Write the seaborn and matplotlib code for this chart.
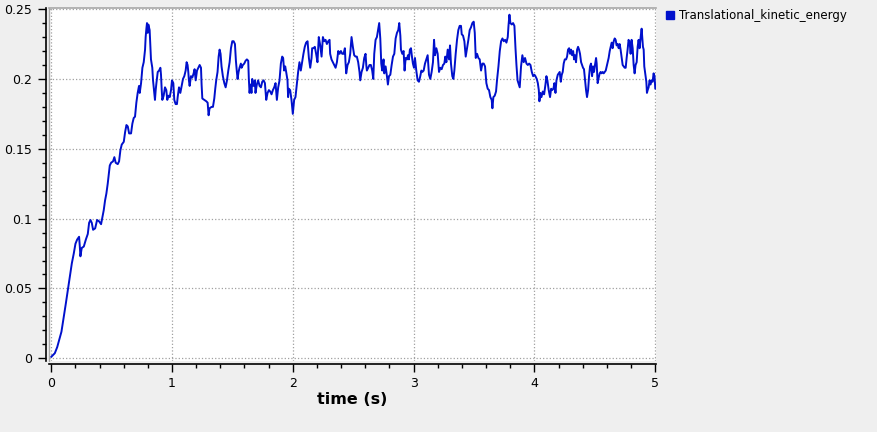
import numpy as np
import pandas as pd
import matplotlib
matplotlib.use("Agg")
import matplotlib.pyplot as plt
import seaborn as sns
from matplotlib.lines import Line2D
from matplotlib.ticker import MultipleLocator

# 데이터
time_s = [
    0.0, 0.03, 0.05, 0.066, 0.085, 0.105, 0.121, 0.138, 0.154, 0.171, 0.187, 0.201, 0.215, 0.231, 0.237, 0.242,
    0.253, 0.27, 0.287, 0.303, 0.314, 0.325, 0.336, 0.347, 0.364, 0.38, 0.397, 0.413, 0.424, 0.435, 0.446, 0.457,
    0.468, 0.477, 0.485, 0.496, 0.512, 0.523, 0.534, 0.551, 0.562, 0.573, 0.584, 0.601, 0.612, 0.623, 0.634, 0.645,
    0.661, 0.672, 0.683, 0.694, 0.705, 0.716, 0.727, 0.733, 0.744, 0.755, 0.766, 0.777, 0.782, 0.788, 0.793, 0.799,
    0.804, 0.815, 0.821, 0.826, 0.837, 0.843, 0.851, 0.859, 0.865, 0.871, 0.882, 0.893, 0.904, 0.909, 0.915, 0.92,
    0.931, 0.942, 0.953, 0.961, 0.97, 0.981, 0.992, 1.0, 1.011, 1.019, 1.03, 1.041, 1.047, 1.058, 1.069, 1.08,
    1.091, 1.102, 1.113, 1.121, 1.129, 1.135, 1.14, 1.146, 1.157, 1.168, 1.179, 1.187, 1.196, 1.207, 1.218, 1.229,
    1.24, 1.245, 1.251, 1.267, 1.284, 1.295, 1.303, 1.311, 1.328, 1.339, 1.35, 1.358, 1.366, 1.377, 1.386, 1.394,
    1.402, 1.41, 1.421, 1.433, 1.444, 1.455, 1.466, 1.477, 1.488, 1.499, 1.51, 1.521, 1.529, 1.537, 1.543, 1.551,
    1.559, 1.57, 1.576, 1.587, 1.598, 1.609, 1.62, 1.631, 1.636, 1.642, 1.65, 1.658, 1.664, 1.675, 1.686, 1.691,
    1.702, 1.713, 1.725, 1.736, 1.747, 1.758, 1.769, 1.78, 1.791, 1.802, 1.813, 1.824, 1.835, 1.846, 1.857, 1.868,
    1.879, 1.89, 1.901, 1.912, 1.92, 1.928, 1.937, 1.945, 1.956, 1.961, 1.967, 1.978, 1.989, 2.0,
    2.011, 2.022, 2.033, 2.044, 2.055, 2.066, 2.077, 2.088, 2.099, 2.11, 2.122, 2.133, 2.144, 2.155, 2.16, 2.171,
    2.182, 2.193, 2.204, 2.215, 2.227, 2.238, 2.249, 2.26, 2.271, 2.282, 2.293, 2.304, 2.309, 2.32, 2.331, 2.342,
    2.354, 2.365, 2.376, 2.387, 2.398, 2.409, 2.42, 2.431, 2.436, 2.442, 2.453, 2.464, 2.475, 2.486, 2.497, 2.508,
    2.519, 2.53, 2.541, 2.552, 2.558, 2.569, 2.58, 2.591, 2.602, 2.608, 2.613, 2.624, 2.635, 2.646, 2.657, 2.666,
    2.674, 2.685, 2.696, 2.707, 2.715, 2.724, 2.732, 2.74, 2.751, 2.757, 2.768, 2.779, 2.787, 2.796, 2.807, 2.818,
    2.829, 2.84, 2.851, 2.862, 2.873, 2.881, 2.89, 2.895, 2.906, 2.917, 2.925, 2.934, 2.945, 2.953, 2.961, 2.969,
    2.978, 2.986, 2.994, 3.003, 3.011, 3.022, 3.033, 3.044, 3.055, 3.064, 3.072, 3.083, 3.094, 3.105, 3.116, 3.127,
    3.138, 3.149, 3.16, 3.169, 3.177, 3.188, 3.199, 3.21, 3.221, 3.232, 3.243, 3.254, 3.262, 3.271, 3.282, 3.293,
    3.301, 3.309, 3.32, 3.329, 3.337, 3.348, 3.359, 3.37, 3.381, 3.392, 3.398, 3.409, 3.42, 3.431, 3.442, 3.453,
    3.464, 3.475, 3.486, 3.497, 3.506, 3.514, 3.525, 3.536, 3.547, 3.558, 3.569, 3.58, 3.591, 3.602, 3.613, 3.624,
    3.635, 3.646, 3.652, 3.66, 3.671, 3.682, 3.69, 3.702, 3.713, 3.724, 3.735, 3.746, 3.757, 3.768, 3.779, 3.785,
    3.793, 3.801, 3.812, 3.823, 3.834, 3.843, 3.851, 3.86, 3.867, 3.878, 3.889, 3.9, 3.911, 3.922, 3.934, 3.945,
    3.956, 3.967, 3.978, 3.989,
    4.0, 4.008, 4.019, 4.028, 4.036, 4.041, 4.05, 4.058, 4.069, 4.08, 4.091, 4.099, 4.107, 4.118, 4.129, 4.138,
    4.146, 4.157, 4.165, 4.174, 4.182, 4.193, 4.201, 4.209, 4.218, 4.226, 4.234, 4.242, 4.251, 4.262, 4.27, 4.278,
    4.287, 4.295, 4.303, 4.311, 4.32, 4.328, 4.336, 4.344, 4.353, 4.361, 4.369, 4.377, 4.386, 4.394, 4.402, 4.41,
    4.419, 4.427, 4.435, 4.444, 4.452, 4.46, 4.468, 4.477, 4.485, 4.493, 4.501, 4.51, 4.515, 4.523, 4.532, 4.54,
    4.548, 4.556, 4.565, 4.573, 4.581, 4.59, 4.598, 4.606, 4.614, 4.623, 4.631, 4.639, 4.647, 4.656, 4.664, 4.672,
    4.68, 4.689, 4.697, 4.705, 4.713, 4.722, 4.73, 4.738, 4.747, 4.755, 4.763, 4.771, 4.779, 4.788, 4.796, 4.804,
    4.813, 4.821, 4.829, 4.837, 4.846, 4.854, 4.862, 4.87, 4.879, 4.887, 4.893, 4.898, 4.904, 4.909, 4.917, 4.926,
    4.931, 4.937, 4.945, 4.953, 4.961, 4.97, 4.978, 4.986, 4.994, 5.0,
]

kinetic_energy = [
    0.001, 0.0036, 0.008, 0.013, 0.019, 0.030, 0.039, 0.049, 0.058, 0.068, 0.075, 0.082, 0.085, 0.087, 0.080, 0.073,
    0.079, 0.080, 0.085, 0.089, 0.097, 0.099, 0.097, 0.092, 0.093, 0.099, 0.098, 0.096, 0.101, 0.106, 0.113, 0.118,
    0.125, 0.132, 0.138, 0.140, 0.141, 0.144, 0.140, 0.139, 0.141, 0.149, 0.153, 0.155, 0.162, 0.167, 0.166, 0.161,
    0.161, 0.168, 0.172, 0.173, 0.183, 0.190, 0.195, 0.190, 0.197, 0.208, 0.212, 0.221, 0.230, 0.236, 0.240, 0.233,
    0.239, 0.235, 0.223, 0.214, 0.208, 0.199, 0.192, 0.185, 0.192, 0.197, 0.205, 0.206, 0.208, 0.203, 0.192, 0.185,
    0.188, 0.194, 0.192, 0.185, 0.188, 0.187, 0.192, 0.199, 0.197, 0.185, 0.182, 0.182, 0.187, 0.194, 0.190, 0.195,
    0.200, 0.202, 0.206, 0.212, 0.210, 0.205, 0.199, 0.195, 0.202, 0.201, 0.204, 0.207, 0.199, 0.206, 0.208, 0.210,
    0.208, 0.196, 0.186, 0.185, 0.184, 0.183, 0.174, 0.179, 0.180, 0.180, 0.186, 0.193, 0.199, 0.205, 0.216, 0.221,
    0.218, 0.209, 0.202, 0.197, 0.194, 0.199, 0.206, 0.212, 0.222, 0.227, 0.227, 0.225, 0.213, 0.205, 0.200, 0.205,
    0.208, 0.211, 0.208, 0.210, 0.211, 0.213, 0.214, 0.213, 0.200, 0.190, 0.196, 0.190, 0.200, 0.195, 0.199, 0.190,
    0.196, 0.199, 0.195, 0.194, 0.198, 0.199, 0.197, 0.185, 0.190, 0.192, 0.191, 0.189, 0.192, 0.194, 0.197, 0.185,
    0.194, 0.199, 0.211, 0.216, 0.215, 0.206, 0.209, 0.205, 0.199, 0.187, 0.193, 0.192, 0.185, 0.175,
    0.185, 0.187, 0.196, 0.205, 0.212, 0.206, 0.212, 0.218, 0.223, 0.226, 0.227, 0.215, 0.208, 0.215, 0.222, 0.222,
    0.223, 0.218, 0.212, 0.230, 0.224, 0.216, 0.230, 0.227, 0.228, 0.225, 0.227, 0.228, 0.218, 0.214, 0.212, 0.210,
    0.208, 0.212, 0.220, 0.218, 0.220, 0.218, 0.218, 0.222, 0.212, 0.204, 0.210, 0.212, 0.218, 0.230, 0.223, 0.217,
    0.216, 0.216, 0.212, 0.205, 0.199, 0.205, 0.208, 0.215, 0.218, 0.210, 0.206, 0.208, 0.210, 0.210, 0.206, 0.200,
    0.218, 0.228, 0.230, 0.236, 0.240, 0.229, 0.211, 0.206, 0.214, 0.204, 0.209, 0.202, 0.196, 0.202, 0.203, 0.210,
    0.216, 0.218, 0.229, 0.233, 0.235, 0.240, 0.231, 0.221, 0.218, 0.220, 0.206, 0.215, 0.214, 0.217, 0.214, 0.221,
    0.222, 0.216, 0.211, 0.208, 0.215, 0.206, 0.199, 0.198, 0.202, 0.206, 0.205, 0.206, 0.211, 0.214, 0.217, 0.203,
    0.200, 0.205, 0.212, 0.228, 0.217, 0.222, 0.218, 0.205, 0.208, 0.207, 0.210, 0.211, 0.216, 0.212, 0.221, 0.214,
    0.224, 0.211, 0.202, 0.200, 0.206, 0.218, 0.228, 0.235, 0.238, 0.238, 0.232, 0.231, 0.227, 0.216, 0.222, 0.228,
    0.235, 0.237, 0.240, 0.241, 0.233, 0.215, 0.218, 0.215, 0.214, 0.206, 0.211, 0.211, 0.209, 0.197, 0.193, 0.192,
    0.187, 0.185, 0.179, 0.187, 0.188, 0.191, 0.199, 0.209, 0.220, 0.227, 0.229, 0.227, 0.228, 0.226, 0.230, 0.238,
    0.246, 0.240, 0.239, 0.240, 0.238, 0.222, 0.210, 0.199, 0.197, 0.194, 0.209, 0.217, 0.212, 0.215, 0.211, 0.210,
    0.211, 0.210, 0.205, 0.202,
    0.203, 0.202, 0.200, 0.197, 0.192, 0.184, 0.190, 0.187, 0.191, 0.189, 0.196, 0.202, 0.199, 0.192, 0.187, 0.193,
    0.192, 0.193, 0.197, 0.190, 0.199, 0.203, 0.204, 0.205, 0.198, 0.203, 0.205, 0.211, 0.214, 0.214, 0.216, 0.221,
    0.222, 0.218, 0.221, 0.217, 0.220, 0.214, 0.217, 0.212, 0.221, 0.223, 0.221, 0.218, 0.212, 0.210, 0.208, 0.207,
    0.199, 0.192, 0.187, 0.192, 0.202, 0.209, 0.211, 0.202, 0.209, 0.205, 0.210, 0.215, 0.211, 0.197, 0.201, 0.204,
    0.205, 0.204, 0.205, 0.204, 0.205, 0.206, 0.209, 0.212, 0.215, 0.220, 0.223, 0.226, 0.222, 0.227, 0.229, 0.228,
    0.224, 0.225, 0.222, 0.225, 0.221, 0.215, 0.210, 0.209, 0.208, 0.208, 0.215, 0.221, 0.228, 0.226, 0.218, 0.228,
    0.222, 0.210, 0.204, 0.210, 0.212, 0.223, 0.228, 0.222, 0.230, 0.236, 0.229, 0.223, 0.221, 0.209, 0.204, 0.198,
    0.190, 0.192, 0.194, 0.199, 0.196, 0.199, 0.198, 0.204, 0.202, 0.193,
]

x_ticks = [0, 1, 2, 3, 4, 5]
x_labels = ["0", "1", "2", "3", "4", "5"]
y_ticks = [0, 0.05, 0.1, 0.15, 0.2, 0.25]
y_labels = ["0", "0.05", "0.1", "0.15", "0.2", "0.25"]
series_name = "Translational_kinetic_energy"

df = pd.DataFrame({"time": time_s, "energy": kinetic_energy})

line_color = "#0010cc"
grid_color = "#a0a0a0"
frame_color = "#a8a8a8"

sns.set_style("white")
plt.rcParams["font.family"] = ["DejaVu Sans"]

fig = plt.figure(figsize=(8.77, 4.32), dpi=100, facecolor="#efefef")
# 흰 영역: x 49~656, y 8~360 (픽셀)
ax = fig.add_axes([49 / 877, 1 - 360.5 / 432, 607 / 877, 352.5 / 432])
ax.set_facecolor("white")

sns.lineplot(data=df, x="time", y="energy", ax=ax, color=line_color,
             linewidth=1.4, estimator=None, sort=False, legend=False)

ax.set_xlim(-0.018, 5.006)
ax.set_ylim(-0.0016, 0.2508)

ax.set_xticks(x_ticks)
ax.set_xticklabels(x_labels)
ax.set_yticks(y_ticks)
ax.set_yticklabels(y_labels)
ax.xaxis.set_minor_locator(MultipleLocator(0.2))
ax.yaxis.set_minor_locator(MultipleLocator(0.01))

ax.tick_params(axis="both", which="major", direction="out", length=5.8, width=1,
               color="black", labelsize=9, labelcolor="black",
               bottom=True, left=True)
ax.tick_params(axis="x", which="major", pad=3.5)
ax.tick_params(axis="y", which="major", pad=4)
ax.tick_params(axis="both", which="minor", direction="out", length=3, width=1,
               color="black", bottom=True, left=True)

ax.grid(True, which="major", linestyle=":", color=grid_color, linewidth=0.9)

# 축 스타일: 검은 축선은 바깥으로, 흰 영역 위/왼쪽은 회색 테두리
for side in ["left", "bottom"]:
    ax.spines[side].set_position(("outward", 2.3))
    ax.spines[side].set_color("black")
    ax.spines[side].set_linewidth(1.2)
ax.spines["top"].set_color(frame_color)
ax.spines["top"].set_linewidth(1.2)
ax.spines["right"].set_visible(False)
ax.add_line(Line2D([0, 0], [0, 1], transform=ax.transAxes, color=frame_color,
                   linewidth=1.0, clip_on=False, zorder=0.5))

ax.set_xlabel("time (s)", fontsize=11.5, fontweight="bold", labelpad=2, color="black")
ax.set_ylabel("")

handle = Line2D([], [], marker="s", color=line_color, linestyle="none", markersize=6)
ax.legend(handles=[handle], labels=[series_name], loc="upper left",
          bbox_to_anchor=(665 / 877, 1 - 9 / 432), bbox_transform=fig.transFigure,
          frameon=False, fontsize=8.5, handlelength=0.8, handletextpad=0.4,
          borderpad=0, borderaxespad=0, labelcolor="black")

fig.savefig("out.png", dpi=100, facecolor=fig.get_facecolor())
